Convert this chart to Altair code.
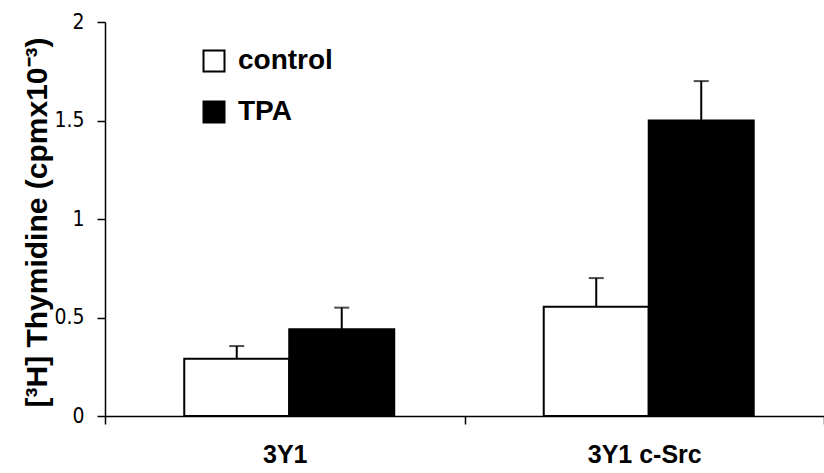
import altair as alt
import pandas as pd

categories = ["3Y1", "3Y1", "3Y1 c-Src", "3Y1 c-Src"]
treatments = ["control", "TPA", "control", "TPA"]
values = [0.29, 0.44, 0.555, 1.50]
errors = [0.065, 0.11, 0.145, 0.20]

df = pd.DataFrame({
    "cell": categories,
    "treatment": treatments,
    "value": values,
    "err": errors,
})
df["top"] = df["value"] + df["err"]

FONT = "Liberation Sans, Arial, sans-serif"
NARROW = "Liberation Sans Narrow, Arial Narrow, DejaVu Sans Condensed, sans-serif"

x_enc = alt.X("cell:N", sort=["3Y1", "3Y1 c-Src"],
              scale=alt.Scale(paddingInner=0, paddingOuter=0),
              axis=alt.Axis(title=None, labelAngle=0, labelFont=FONT, labelFontSize=25,
                            labelFontWeight="bold", labelColor="black", labelPadding=18,
                            tickBand="extent", tickSize=8, tickColor="black", tickWidth=1.5,
                            domainColor="black", domainWidth=1.5))
off_enc = alt.XOffset("treatment:N", sort=["control", "TPA"],
                      scale=alt.Scale(paddingInner=0, paddingOuter=0.712, align=0.53))
y_scale = alt.Scale(domain=[0, 2])

bars = alt.Chart(df).mark_bar(stroke="black", strokeWidth=2).encode(
    x=x_enc,
    xOffset=off_enc,
    y=alt.Y("value:Q", scale=y_scale,
            axis=alt.Axis(title="[³H] Thymidine (cpmx10⁻³)", values=[0, 0.5, 1, 1.5, 2],
                          format="~g", grid=False, labelFont=NARROW, labelFontSize=21,
                          labelColor="black", labelPadding=13, tickSize=8,
                          tickColor="black", tickWidth=1.5, domainColor="black",
                          domainWidth=1.5, titleFont=FONT, titleFontSize=30,
                          titleFontWeight="bold", titleColor="black", titleX=-68,
                          titleY=200, titleAlign="center", titleBaseline="middle")),
    color=alt.Color("treatment:N", sort=["control", "TPA"],
                    scale=alt.Scale(domain=["control", "TPA"], range=["white", "black"]),
                    legend=alt.Legend(title=None, orient="none", legendX=95, legendY=25,
                                      symbolType="square", symbolSize=441,
                                      symbolStrokeColor="black", symbolStrokeWidth=2,
                                      labelFont=FONT, labelFontSize=28,
                                      labelFontWeight="bold", labelColor="black",
                                      rowPadding=21, padding=0, labelOffset=10)),
)

stems = alt.Chart(df).mark_rule(color="black", strokeWidth=2).encode(
    x=x_enc, xOffset=off_enc, y=alt.Y("value:Q", scale=y_scale), y2="top:Q"
)
caps = alt.Chart(df).mark_tick(color="black", orient="horizontal", size=15, thickness=2).encode(
    x=x_enc, xOffset=off_enc, y=alt.Y("top:Q", scale=y_scale)
)

chart = alt.layer(bars, stems, caps).properties(
    width=719, height=394,
    autosize=alt.AutoSizeParams(type="none"),
    padding={"left": 105, "top": 22, "right": 0, "bottom": 57},
    background="white",
).configure_view(stroke=None)

chart.save("out.html", embed_options={"renderer": "svg", "actions": False})
